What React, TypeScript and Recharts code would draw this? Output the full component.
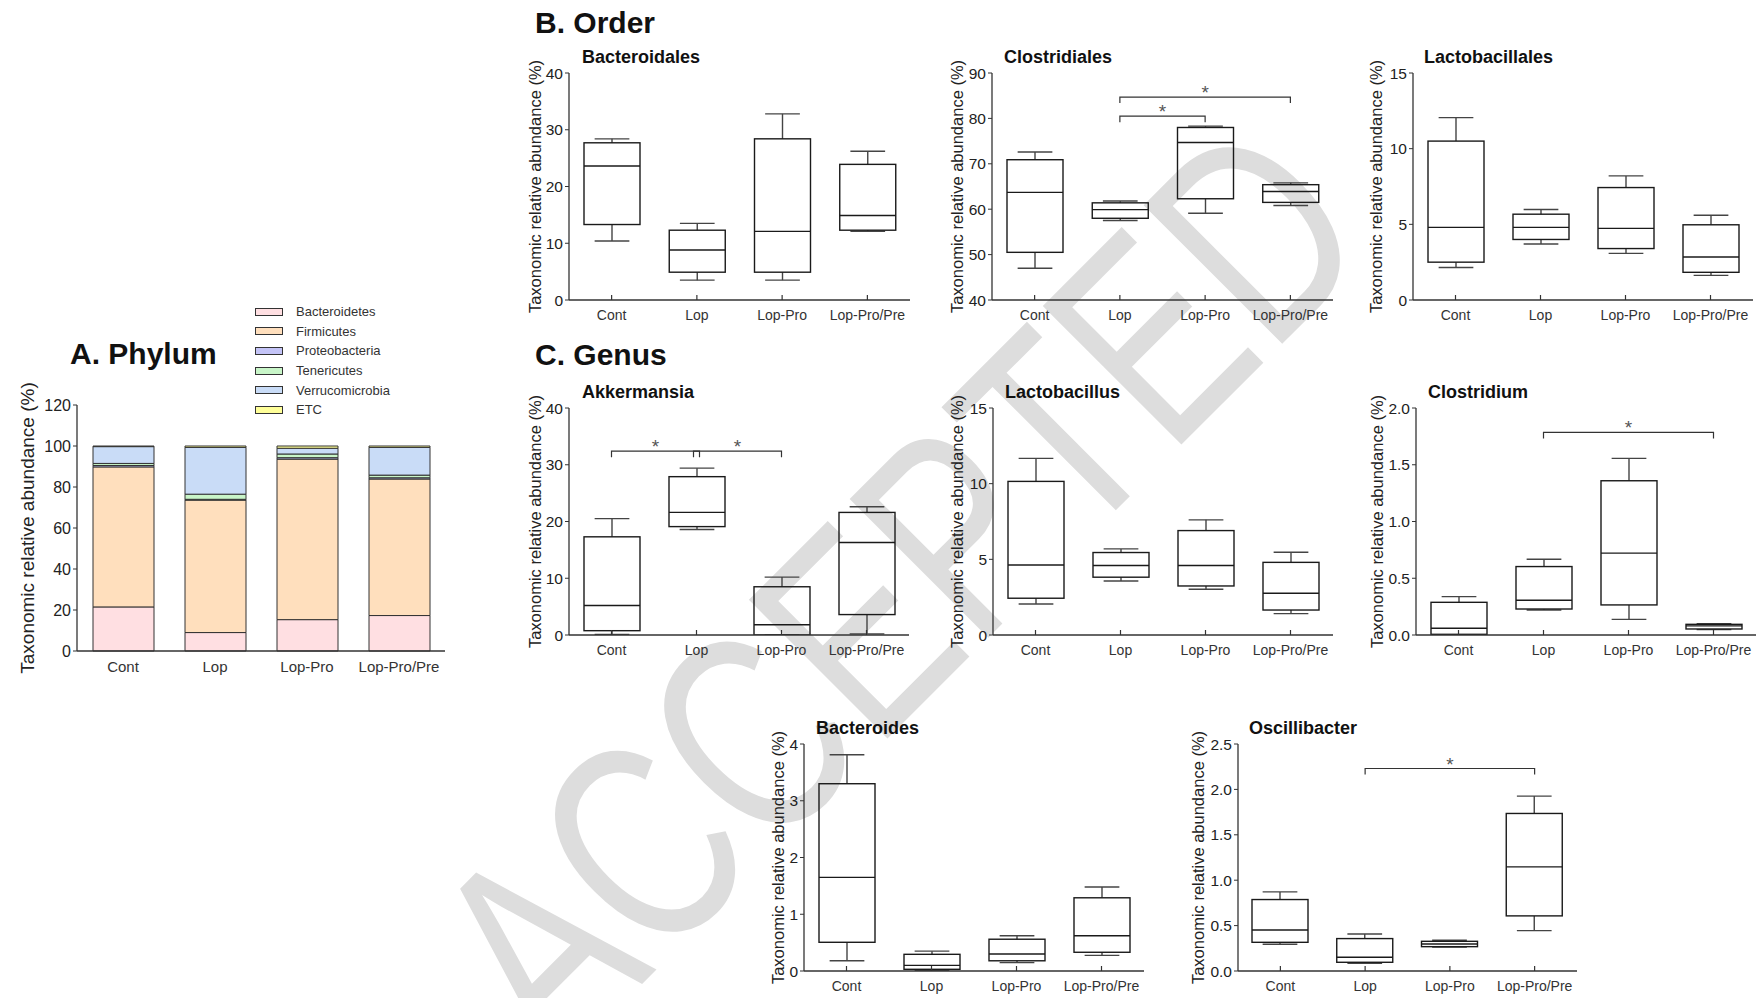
import React from 'react';
import { ComposedChart, BarChart, Bar, XAxis, YAxis, ReferenceLine, Legend } from 'recharts';

const FONT = '"Liberation Sans", Arial, Helvetica, sans-serif';

const groups = ['Cont', 'Lop', 'Lop-Pro', 'Lop-Pro/Pre'];

// A. phylum composition (%), stacked bottom to top
const phyla = ['Bacteroidetes', 'Firmicutes', 'Proteobacteria', 'Tenericutes', 'Verrucomicrobia', 'ETC'];
const phylumColors = ['#ffdfe2', '#ffdfbd', '#c4c4f7', '#c8f5c8', '#c9dcf7', '#ffff99'];
const bacteroidetes = [21.5, 9, 15.3, 17.3];
const firmicutes = [68.3, 64.6, 78.3, 66.6];
const proteobacteria = [0.7, 0.4, 0.7, 0.6];
const tenericutes = [1, 2.5, 1.8, 1.3];
const verrucomicrobia = [8.2, 22.8, 2.8, 13.5];
const etc = [0.3, 0.7, 1.1, 0.7];

// box stats per group: [min, q1, median, q3, max]
const bacteroidalesStats = [
  [10.4, 13.3, 23.6, 27.7, 28.4],
  [3.5, 4.9, 8.8, 12.3, 13.5],
  [3.5, 4.9, 12.1, 28.4, 32.8],
  [12.1, 12.3, 14.9, 23.9, 26.2],
];
const clostridialesStats = [
  [47.0, 50.5, 63.7, 70.9, 72.6],
  [57.5, 58.0, 59.9, 61.4, 61.8],
  [59.1, 62.3, 74.7, 78.0, 78.3],
  [60.8, 61.5, 63.9, 65.4, 65.8],
];
const lactobacillalesStats = [
  [2.15, 2.5, 4.8, 10.5, 12.05],
  [3.7, 4.0, 4.8, 5.67, 5.98],
  [3.08, 3.4, 4.73, 7.43, 8.2],
  [1.63, 1.83, 2.84, 4.97, 5.6],
];
const akkermansiaStats = [
  [0.1, 0.76, 5.2, 17.3, 20.5],
  [18.6, 19.1, 21.6, 27.9, 29.4],
  [0, 0, 1.8, 8.5, 10.2],
  [0.2, 3.6, 16.3, 21.6, 22.6],
];
const lactobacillusStats = [
  [2.05, 2.43, 4.63, 10.15, 11.67],
  [3.57, 3.82, 4.59, 5.45, 5.69],
  [3.02, 3.24, 4.59, 6.9, 7.61],
  [1.41, 1.65, 2.76, 4.8, 5.47],
];
const clostridiumStats = [
  [0, 0.006, 0.059, 0.288, 0.338],
  [0.22, 0.229, 0.306, 0.603, 0.668],
  [0.138, 0.265, 0.721, 1.359, 1.556],
  [0.047, 0.053, 0.08, 0.094, 0.1],
];
const bacteroidesStats = [
  [0.18, 0.506, 1.65, 3.3, 3.81],
  [0.01, 0.03, 0.1, 0.294, 0.35],
  [0.147, 0.18, 0.3, 0.56, 0.62],
  [0.276, 0.33, 0.62, 1.29, 1.48],
];
const oscillibacterStats = [
  [0.294, 0.316, 0.452, 0.787, 0.871],
  [0.085, 0.096, 0.151, 0.357, 0.408],
  [0.265, 0.268, 0.298, 0.327, 0.338],
  [0.445, 0.607, 1.147, 1.735, 1.926],
];

// significance brackets (*)
const clostridialesSig = [
  { from: 'Lop', to: 'Lop-Pro', y: 80.5 },
  { from: 'Lop', to: 'Lop-Pro/Pre', y: 84.7 },
];
const akkermansiaSig = [
  { from: 'Cont', to: 'Lop', y: 32.4 },
  { from: 'Lop', to: 'Lop-Pro', y: 32.4 },
];
const clostridiumSig = [{ from: 'Lop', to: 'Lop-Pro/Pre', y: 1.785 }];
const oscillibacterSig = [{ from: 'Lop', to: 'Lop-Pro/Pre', y: 2.23 }];

const panels = [
  { title: 'Bacteroidales', stats: bacteroidalesStats, sig: [], domain: [0, 40], ticks: [0, 10, 20, 30, 40], dec: 0,
    axisX: 569, top: 73, bottom: 300, right: 910, labelDx: 34, titleX: 582, titleY: 63 },
  { title: 'Clostridiales', stats: clostridialesStats, sig: clostridialesSig, domain: [40, 90], ticks: [40, 50, 60, 70, 80, 90], dec: 0,
    axisX: 992, top: 73, bottom: 300, right: 1333, labelDx: 35, titleX: 1004, titleY: 63 },
  { title: 'Lactobacillales', stats: lactobacillalesStats, sig: [], domain: [0, 15], ticks: [0, 5, 10, 15], dec: 0,
    axisX: 1413, top: 73, bottom: 300, right: 1753, labelDx: 37, titleX: 1424, titleY: 63 },
  { title: 'Akkermansia', stats: akkermansiaStats, sig: akkermansiaSig, domain: [0, 40], ticks: [0, 10, 20, 30, 40], dec: 0,
    axisX: 569, top: 408, bottom: 635, right: 909, labelDx: 34, titleX: 582, titleY: 398 },
  { title: 'Lactobacillus', stats: lactobacillusStats, sig: [], domain: [0, 15], ticks: [0, 5, 10, 15], dec: 0,
    axisX: 993, top: 408, bottom: 635, right: 1333, labelDx: 36, titleX: 1005, titleY: 398 },
  { title: 'Clostridium', stats: clostridiumStats, sig: clostridiumSig, domain: [0, 2], ticks: [0, 0.5, 1, 1.5, 2], dec: 1,
    axisX: 1416, top: 408, bottom: 635, right: 1756, labelDx: 39, titleX: 1428, titleY: 398 },
  { title: 'Bacteroides', stats: bacteroidesStats, sig: [], domain: [0, 4], ticks: [0, 1, 2, 3, 4], dec: 0,
    axisX: 804, top: 744, bottom: 971, right: 1144, labelDx: 26, titleX: 816, titleY: 734 },
  { title: 'Oscillibacter', stats: oscillibacterStats, sig: oscillibacterSig, domain: [0, 2.5], ticks: [0, 0.5, 1, 1.5, 2, 2.5], dec: 1,
    axisX: 1238, top: 744, bottom: 971, right: 1577, labelDx: 40, titleX: 1249, titleY: 734 },
];

const headings = [
  { text: 'A. Phylum', x: 70, y: 364 },
  { text: 'B. Order', x: 535, y: 33 },
  { text: 'C. Genus', x: 535, y: 365 },
];

const YLABEL = 'Taxonomic relative abundance (%)';

const XTick = (props: any) => {
  const { x, y, payload, mark, fontSize, dy } = props;
  return (
    <g>
      {mark && <line x1={x} x2={x} y1={y} y2={y - 5} stroke="#333" strokeWidth={1.2} />}
      <text x={x} y={y + dy} textAnchor="middle" fontSize={fontSize} fill="#333">
        {payload.value}
      </text>
    </g>
  );
};

const yTitle = (dx: number, size: number) => (props: any) => {
  const vb = props.viewBox || {};
  const cx = vb.x + vb.width - dx;
  const cy = vb.y + vb.height / 2;
  return (
    <text x={cx} y={cy} dy="0.35em" transform={`rotate(-90, ${cx}, ${cy})`} textAnchor="middle" fontSize={size} fill="#222">
      {YLABEL}
    </text>
  );
};

const BoxShape = (props: any) => {
  const { x, y, width, height, payload } = props;
  if (!payload) return null;
  const { min, q1, median, q3, max } = payload;
  const yTop = Math.min(y, y + height);
  const yBot = Math.max(y, y + height);
  const k = max > min ? (yBot - yTop) / (max - min) : 0;
  const py = (v: number) => yBot - (v - min) * k;
  const cx = x + width / 2;
  const cap = width * 0.31;
  const ln = { stroke: '#444', strokeWidth: 1.4 };
  return (
    <g>
      <line x1={cx} x2={cx} y1={py(max)} y2={py(q3)} {...ln} />
      <line x1={cx - cap} x2={cx + cap} y1={py(max)} y2={py(max)} {...ln} />
      <line x1={cx} x2={cx} y1={py(q1)} y2={py(min)} {...ln} />
      <line x1={cx - cap} x2={cx + cap} y1={py(min)} y2={py(min)} {...ln} />
      <rect x={x} y={py(q3)} width={width} height={Math.max(py(q1) - py(q3), 0.5)} fill="none" stroke="#1a1a1a" strokeWidth={1.4} />
      <line x1={x} x2={x + width} y1={py(median)} y2={py(median)} stroke="#1a1a1a" strokeWidth={1.4} />
    </g>
  );
};

const bracketShape = (insetL: number, insetR: number) => (props: any) => {
  const { x1, x2, y1 } = props;
  const a = Math.min(x1, x2) + insetL;
  const b = Math.max(x1, x2) - insetR;
  return (
    <g>
      <path d={`M${a},${y1 + 6} L${a},${y1} L${b},${y1} L${b},${y1 + 6}`} fill="none" stroke="#333" strokeWidth={1.2} />
      <text x={(a + b) / 2} y={y1 + 2} textAnchor="middle" fontSize={19} fill="#555">*</text>
    </g>
  );
};

function BoxPanel({ p }: { p: any }) {
  const padL = 70;
  const padT = 50;
  const plotW = p.right - p.axisX;
  const plotH = p.bottom - p.top;
  const data = groups.map((g, i) => {
    const [min, q1, median, q3, max] = p.stats[i];
    return { group: g, min, q1, median, q3, max, range: [min, max] };
  });
  const shared = (b: any, end: string) =>
    p.sig.some((o: any) => o !== b && o.y === b.y && (o.from === end || o.to === end));
  return (
    <div style={{ position: 'absolute', left: p.axisX - padL, top: p.top - padT }}>
      <ComposedChart width={padL + plotW + 6} height={padT + plotH + 28} data={data} margin={{ top: padT, right: 6, left: 0, bottom: 0 }}>
        <XAxis
          dataKey="group"
          interval={0}
          height={28}
          tickSize={0}
          tickMargin={0}
          tickLine={false}
          axisLine={{ stroke: '#333', strokeWidth: 1.3 }}
          tick={<XTick mark fontSize={14} dy={20} />}
        />
        <YAxis
          width={padL}
          domain={p.domain}
          ticks={p.ticks}
          allowDataOverflow
          interval={0}
          tickSize={4}
          tickMargin={2}
          tickFormatter={(v: number) => v.toFixed(p.dec)}
          tick={{ fontSize: 15.5, fill: '#222' }}
          tickLine={{ stroke: '#333' }}
          axisLine={{ stroke: '#333', strokeWidth: 1.3 }}
          label={{ content: yTitle(p.labelDx, 16.5) }}
        />
        <Bar dataKey="range" barSize={56} shape={BoxShape} isAnimationActive={false} />
        {p.sig.map((b: any, i: number) => (
          <ReferenceLine
            key={i}
            ifOverflow="visible"
            segment={[{ x: b.from, y: b.y }, { x: b.to, y: b.y }]}
            shape={bracketShape(shared(b, b.from) ? -3 : 0, shared(b, b.to) ? -3 : 0)}
          />
        ))}
      </ComposedChart>
    </div>
  );
}

const phylumData = groups.map((g, i) => ({
  group: g,
  Bacteroidetes: bacteroidetes[i],
  Firmicutes: firmicutes[i],
  Proteobacteria: proteobacteria[i],
  Tenericutes: tenericutes[i],
  Verrucomicrobia: verrucomicrobia[i],
  ETC: etc[i],
}));

const PhylumLegend = () => (
  <div style={{ fontFamily: FONT }}>
    {phyla.map((name, i) => (
      <div key={name} style={{ display: 'flex', alignItems: 'center', height: 19.6 }}>
        <span style={{ display: 'inline-block', width: 28, height: 8, background: phylumColors[i], border: '1px solid #333', boxSizing: 'border-box', marginRight: 13 }} />
        <span style={{ fontSize: 13, color: '#333' }}>{name}</span>
      </div>
    ))}
  </div>
);

function PhylumPanel() {
  const axisX = 77;
  const top = 405;
  const bottom = 651;
  const right = 445;
  const padL = 70;
  const chartTop = 290;
  const padT = top - chartTop;
  return (
    <div style={{ position: 'absolute', left: axisX - padL, top: chartTop }}>
      <BarChart width={padL + (right - axisX) + 6} height={padT + (bottom - top) + 30} data={phylumData} margin={{ top: padT, right: 6, left: 0, bottom: 0 }}>
        <XAxis
          dataKey="group"
          interval={0}
          height={30}
          tickSize={0}
          tickMargin={0}
          tickLine={false}
          axisLine={{ stroke: '#333', strokeWidth: 1.3 }}
          tick={<XTick fontSize={15} dy={21} />}
        />
        <YAxis
          width={padL}
          domain={[0, 120]}
          ticks={[0, 20, 40, 60, 80, 100, 120]}
          interval={0}
          tickSize={4}
          tickMargin={2}
          tick={{ fontSize: 16, fill: '#222' }}
          tickLine={{ stroke: '#333' }}
          axisLine={{ stroke: '#333', strokeWidth: 1.3 }}
          label={{ content: yTitle(50, 19) }}
        />
        <Legend
          layout="vertical"
          align="center"
          verticalAlign="middle"
          content={PhylumLegend}
          wrapperStyle={{ left: 255 - (axisX - padL), top: 12, width: 170 }}
        />
        {phyla.map((name, i) => (
          <Bar key={name} dataKey={name} stackId="phylum" barSize={61} fill={phylumColors[i]} stroke="#333" strokeWidth={1} isAnimationActive={false} />
        ))}
      </BarChart>
    </div>
  );
}

export default function App() {
  return (
    <div style={{ position: 'absolute', left: 0, top: 0, width: 1762, height: 998, overflow: 'hidden', background: '#fff', fontFamily: FONT }}>
      <svg width={1762} height={998} style={{ position: 'absolute', left: 0, top: 0 }}>
        <text
          transform="translate(556,1070) rotate(-45) scale(0.75,1)"
          x={0}
          y={0}
          fontSize={285}
          fill="#dddddd"
          fontFamily={FONT}
        >
          ACCEPTED
        </text>
      </svg>
      <PhylumPanel />
      {panels.map((p) => (
        <BoxPanel key={p.title} p={p} />
      ))}
      <svg width={1762} height={998} style={{ position: 'absolute', left: 0, top: 0, pointerEvents: 'none' }}>
        {headings.map((h) => (
          <text key={h.text} x={h.x} y={h.y} fontSize={30} fontWeight="bold" fill="#111">
            {h.text}
          </text>
        ))}
        {panels.map((p) => (
          <text key={p.title} x={p.titleX} y={p.titleY} fontSize={18} fontWeight="bold" fill="#111">
            {p.title}
          </text>
        ))}
      </svg>
    </div>
  );
}
